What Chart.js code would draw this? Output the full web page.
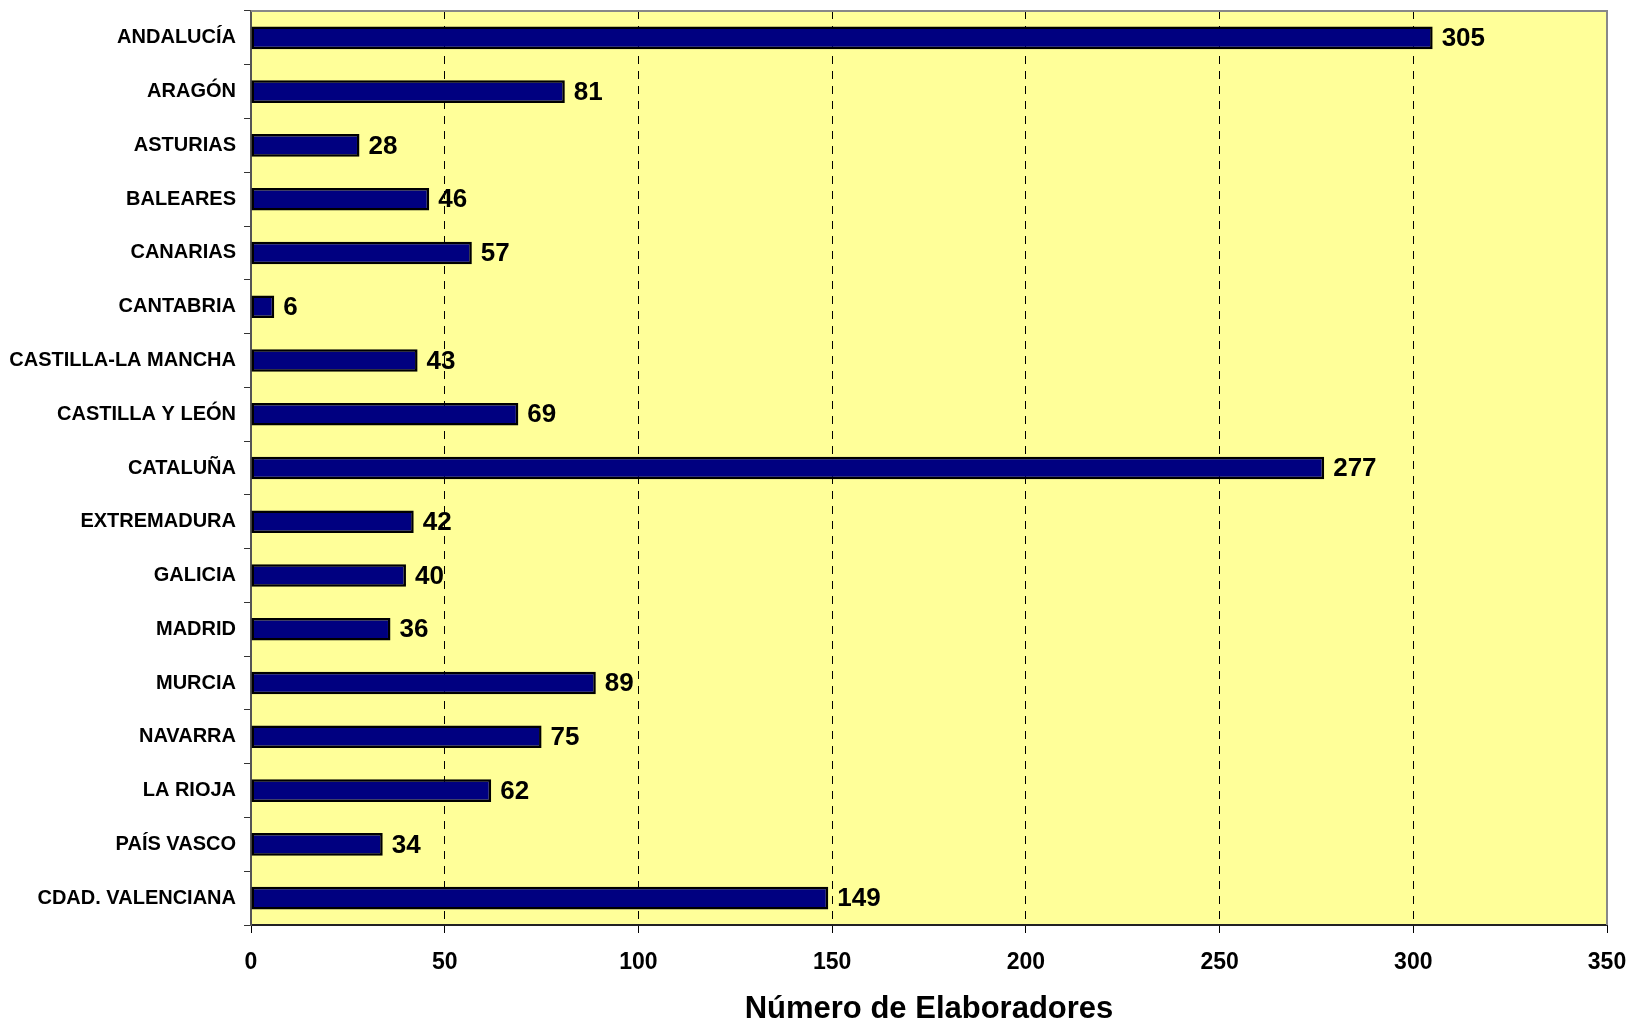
<!DOCTYPE html>
<html>
<head>
<meta charset="utf-8">
<script src="https://cdn.jsdelivr.net/npm/chart.js@4"></script>
<style>
  html, body { margin: 0; padding: 0; background: #fff; }
  #wrap { width: 1626px; height: 1025px; }
</style>
</head>
<body>
<div id="wrap"><canvas id="myChart" width="1626" height="1025"></canvas></div>
<script>
// comunidades
var regiones = ["ANDALUCÍA", "ARAGÓN", "ASTURIAS", "BALEARES", "CANARIAS", "CANTABRIA",
  "CASTILLA-LA MANCHA", "CASTILLA Y LEÓN", "CATALUÑA", "EXTREMADURA", "GALICIA", "MADRID",
  "MURCIA", "NAVARRA", "LA RIOJA", "PAÍS VASCO", "CDAD. VALENCIANA"];
// número de elaboradores
var elaboradores = [305, 81, 28, 46, 57, 6, 43, 69, 277, 42, 40, 36, 89, 75, 62, 34, 149];
// eje x
var ejeMin = 0, ejeMax = 350, ejePaso = 50;

var FUENTE = "Arial, 'Liberation Sans', sans-serif";

// fondo amarillo + borde gris arriba/derecha
var fondo = {
  id: 'fondo',
  beforeDraw: function(chart) {
    var a = chart.chartArea, c = chart.ctx;
    c.save();
    c.fillStyle = '#FFFF99';
    c.fillRect(a.left, a.top, a.right - a.left, a.bottom - a.top);
    c.restore();
  },
  afterDraw: function(chart) {
    var a = chart.chartArea, c = chart.ctx;
    c.save();
    c.strokeStyle = '#888888';
    c.lineWidth = 2;
    c.beginPath();
    c.moveTo(a.left, a.top);
    c.lineTo(a.right, a.top);
    c.lineTo(a.right, a.bottom);
    c.stroke();
    c.restore();
  }
};

// etiquetas de valor
var valores = {
  id: 'valores',
  afterDatasetsDraw: function(chart) {
    var c = chart.ctx;
    var meta = chart.getDatasetMeta(0);
    c.save();
    c.font = 'bold 26px ' + FUENTE;
    c.fillStyle = '#000';
    c.textAlign = 'left';
    c.textBaseline = 'middle';
    meta.data.forEach(function(bar, i) {
      c.fillText(String(chart.data.datasets[0].data[i]), bar.x + 9, bar.y + 1);
    });
    c.restore();
  }
};

// sin relleno automático de las escalas
function sinRelleno(scale) {
  scale.paddingTop = 0;
  scale.paddingBottom = 0;
  scale.paddingLeft = 0;
  scale.paddingRight = 0;
}

var ctx = document.getElementById("myChart");
var myChart = new Chart(ctx, {
  type: 'bar',
  data: {
    labels: regiones,
    datasets: [{
      data: elaboradores,
      backgroundColor: '#000080',
      borderColor: '#000000',
      borderWidth: 2.5,
      borderSkipped: false,
      barPercentage: 0.42,
      categoryPercentage: 1.0
    }]
  },
  options: {
    indexAxis: 'y',
    responsive: false,
    animation: false,
    layout: { padding: { top: 11, right: 19, bottom: 0, left: 0 } },
    plugins: {
      legend: { display: false },
      tooltip: { enabled: false }
    },
    scales: {
      x: {
        min: ejeMin,
        max: ejeMax,
        ticks: {
          stepSize: ejePaso,
          color: '#000',
          padding: 16,
          maxRotation: 0,
          font: { family: FUENTE, size: 23, weight: 'bold' }
        },
        grid: {
          color: '#000',
          lineWidth: 1,
          drawTicks: true,
          tickLength: 8,
          tickColor: '#000',
          tickBorderDash: []
        },
        border: { display: true, color: '#222', width: 2, dash: [8, 7] },
        title: {
          display: true,
          text: 'Número de Elaboradores',
          color: '#000',
          padding: { top: 0, bottom: 0 },
          font: { family: FUENTE, size: 31, weight: 'bold', lineHeight: 1 }
        },
        afterFit: function(scale) {
          scale.height = 100;
          sinRelleno(scale);
        }
      },
      y: {
        ticks: {
          color: '#000',
          padding: 8,
          autoSkip: false,
          font: { family: FUENTE, size: 20, weight: 'bold' }
        },
        grid: {
          drawOnChartArea: false,
          drawTicks: true,
          tickLength: 7,
          color: '#333'
        },
        border: { display: true, color: '#555', width: 2 },
        afterFit: function(scale) {
          scale.width = 251;
          sinRelleno(scale);
        }
      }
    }
  },
  plugins: [fondo, valores]
});
</script>
</body>
</html>
